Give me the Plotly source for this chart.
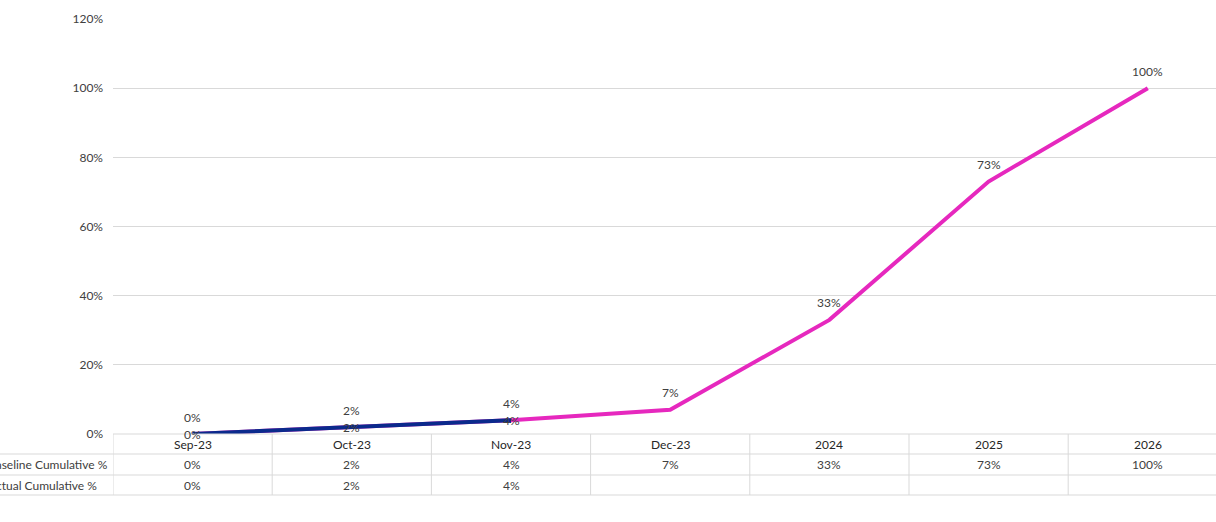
import plotly.graph_objects as go

categories = ["Sep-23", "Oct-23", "Nov-23", "Dec-23", "2024", "2025", "2026"]
baseline = [0.00, 0.02, 0.04, 0.07, 0.33, 0.73, 1.00]
actual = [0.00, 0.02, 0.04, None, None, None, None]
row_names = ["Baseline Cumulative %", "Actual Cumulative %"]
y_ticks = [0, 0.2, 0.4, 0.6, 0.8, 1.0, 1.2]

MAGENTA = "#E628BE"
BLUE = "#0B2A8C"
TXT = "#404040"
GRID = "#D9D9D9"
FONT = "Lato"
FS = 12

W, H = 1216, 522
L, T, B = 113, 19, 88
plot_w = W - L
plot_h = H - T - B
col_w = 159.2
x_right = -0.5 + plot_w / col_w


def py(px):
    return (H - B - px) / plot_h


def fmt(v):
    return f"{round(v * 100)}%"


fig = go.Figure()
fig.add_trace(go.Scatter(x=categories, y=baseline, mode="lines",
                         line=dict(color=MAGENTA, width=4), cliponaxis=False,
                         name=row_names[0], hoverinfo="skip"))
fig.add_trace(go.Scatter(x=categories, y=actual, mode="lines",
                         line=dict(color=BLUE, width=4), cliponaxis=False,
                         name=row_names[1], hoverinfo="skip"))

ann = []
# data labels (category axis positions given by index)
for i, v in enumerate(baseline):
    ann.append(dict(x=i, y=v, xref="x", yref="y", text=fmt(v), showarrow=False,
                    yanchor="middle", yshift=17, font=dict(family=FONT, size=FS, color=TXT)))
for i, v in enumerate(actual):
    if v is None:
        continue
    ann.append(dict(x=i, y=v, xref="x", yref="y", text=fmt(v), showarrow=False,
                    yanchor="middle", yshift=0, font=dict(family=FONT, size=FS, color=TXT)))

# data table
row_y = [444, 464, 485]
for i, c in enumerate(categories):
    ann.append(dict(x=i, y=py(row_y[0]), xref="x", yref="paper", text=c, showarrow=False,
                    xanchor="center", yanchor="middle",
                    font=dict(family=FONT, size=FS, color="#262626")))
for series, yy in ((baseline, row_y[1]), (actual, row_y[2])):
    for i, v in enumerate(series):
        if v is None:
            continue
        ann.append(dict(x=i, y=py(yy), xref="x", yref="paper", text=fmt(v), showarrow=False,
                        xanchor="center", yanchor="middle",
                        font=dict(family=FONT, size=FS, color=TXT)))
label_right = [110, 99]
for name, yy, xr in zip(row_names, row_y[1:], label_right):
    ann.append(dict(x=(xr - L) / plot_w, y=py(yy), xref="paper", yref="paper", text=name,
                    showarrow=False, xanchor="right", yanchor="middle",
                    font=dict(family=FONT, size=FS, color=TXT)))

shapes = []
for hy, x0 in ((434, 0), (454, -L / plot_w), (475, -L / plot_w), (495, -L / plot_w)):
    shapes.append(dict(type="line", xref="paper", yref="paper", x0=x0, x1=1,
                       y0=py(hy), y1=py(hy), line=dict(color=GRID, width=1)))
for i in range(len(categories) + 1):
    xv = -0.5 + i
    shapes.append(dict(type="line", xref="x", yref="paper", x0=xv, x1=xv,
                       y0=py(434), y1=py(495), line=dict(color=GRID, width=1)))

fig.update_layout(
    width=W, height=H,
    margin=dict(l=L, r=0, t=T, b=B, autoexpand=False),
    paper_bgcolor="white", plot_bgcolor="white",
    showlegend=False,
    annotations=ann, shapes=shapes,
    font=dict(family=FONT, size=FS, color=TXT),
)
fig.update_xaxes(type="category", range=[-0.5, x_right], showticklabels=False,
                 showgrid=False, zeroline=False, showline=False, ticks="")
fig.update_yaxes(range=[0, 1.2], tickvals=y_ticks, ticktext=[fmt(v) for v in y_ticks],
                 showgrid=True, gridcolor=GRID, gridwidth=1, zeroline=False,
                 showline=False, ticks="", ticklabelstandoff=9,
                 tickfont=dict(family=FONT, size=FS, color=TXT))

fig.write_html("out.html", config={"displayModeBar": False},
               post_script="document.body.style.margin='0px';")
